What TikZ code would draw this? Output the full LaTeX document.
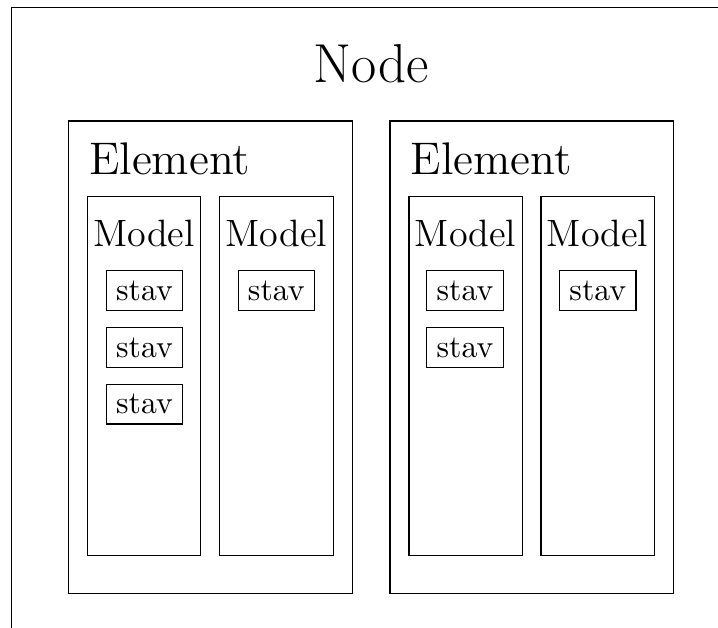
\documentclass[tikz,border=0pt]{standalone}
\usetikzlibrary{fit}
\begin{document}
\begin{tikzpicture}[x=0.315pt,y=-0.315pt,
  frame/.style={draw,inner sep=0pt,line width=0.4pt},
  stavbox/.style={draw,inner sep=3.1pt,font=\normalsize},
  modeltext/.style={anchor=base,inner sep=0pt,font=\large},
  elemtext/.style={anchor=base west,inner sep=0pt,font=\Large},
  nodetext/.style={anchor=base,inner sep=0pt,font=\LARGE}]
\useasboundingbox (0,0) rectangle (718,628);
\clip (0,0) rectangle (718,628);
% outer node frame (extends beyond the picture)
\node[frame,fit={(11.5,7.5) (760,680)}] (outer) {};
\node[nodetext] (nodelbl) at (371,82.7) {Node};
% elements
\node[frame,fit={(68.3,121) (352.3,593.3)}] (e1) {};
\node[frame,fit={(390,121) (673.3,593.3)}] (e2) {};
\node[elemtext] (e1lbl) at (88.5,175) {Element};
\node[elemtext] (e2lbl) at (410,175) {Element};
% models
\node[frame,fit={(87.3,196.7) (200.7,555.3)}] (m11) {};
\node[frame,fit={(219.3,196.7) (333.3,555.3)}] (m12) {};
\node[frame,fit={(409,196.7) (522.3,555.3)}] (m21) {};
\node[frame,fit={(541,196.7) (654.3,555.3)}] (m22) {};
\node[modeltext] (m11lbl) at (144,247) {Model};
\node[modeltext] (m12lbl) at (276.3,247) {Model};
\node[modeltext] (m21lbl) at (465.6,247) {Model};
\node[modeltext] (m22lbl) at (597.6,247) {Model};
% states
\node[stavbox] (s111) at (144.5,290.5) {stav};
\node[stavbox] (s112) at (144.5,347.5) {stav};
\node[stavbox] (s113) at (144.5,404.2) {stav};
\node[stavbox] (s121) at (276.3,290.5) {stav};
\node[stavbox] (s211) at (465,290.5) {stav};
\node[stavbox] (s212) at (465,347.5) {stav};
\node[stavbox] (s221) at (597.8,290.5) {stav};
\end{tikzpicture}
\end{document}
